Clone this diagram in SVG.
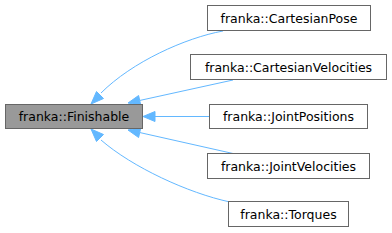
<svg xmlns="http://www.w3.org/2000/svg" width="392" height="233" viewBox="0 0 392 233">
<style>
.node rect{fill:#ffffff;stroke:#666666;stroke-width:1}
#finishable rect{fill:#999999}
.node text{font-family:"DejaVu Sans",sans-serif;font-size:12.5px;fill:#000000;text-anchor:middle}
.edge path{fill:none;stroke:#63b8ff;stroke-width:1}
.edge polygon{fill:#63b8ff;stroke:#63b8ff;stroke-width:1}
</style>
<rect width="392" height="233" fill="#ffffff"/>
<g id="edges">
<g class="edge"><path d="M223,31 C185,38 132,62 101,93"/><polygon points="91,104 103.5,98.5 96.5,91.5"/></g>
<g class="edge"><path d="M233,80 L140,100.4"/><polygon points="128,103 140.8,105.3 138.6,95.5"/></g>
<g class="edge"><path d="M209,116.5 L155,116.5"/><polygon points="143,116.5 155,111.5 155,121.5"/></g>
<g class="edge"><path d="M233,153.5 L140,132.6"/><polygon points="128,130 140.8,127.7 138.6,137.5"/></g>
<g class="edge"><path d="M230,202 C188,193 132,167 101,140"/><polygon points="91,129 96.5,141.5 103.5,134.5"/></g>
</g>
<g id="finishable" class="node"><rect x="5.5" y="104.5" width="137" height="24"/><text x="74" y="121">franka::Finishable</text></g>
<g id="cartesianpose" class="node"><rect x="207.5" y="5.5" width="163" height="25"/><text x="289" y="22.5">franka::CartesianPose</text></g>
<g id="cartesianvelocities" class="node"><rect x="190.5" y="54.5" width="196" height="25"/><text x="288.5" y="71.5">franka::CartesianVelocities</text></g>
<g id="jointpositions" class="node"><rect x="209.5" y="104.5" width="158" height="24"/><text x="288.5" y="121">franka::JointPositions</text></g>
<g id="jointvelocities" class="node"><rect x="207.5" y="153.5" width="162" height="25"/><text x="288.5" y="170.5">franka::JointVelocities</text></g>
<g id="torques" class="node"><rect x="228.5" y="201.5" width="120" height="25"/><text x="288.5" y="218.5">franka::Torques</text></g>
</svg>
